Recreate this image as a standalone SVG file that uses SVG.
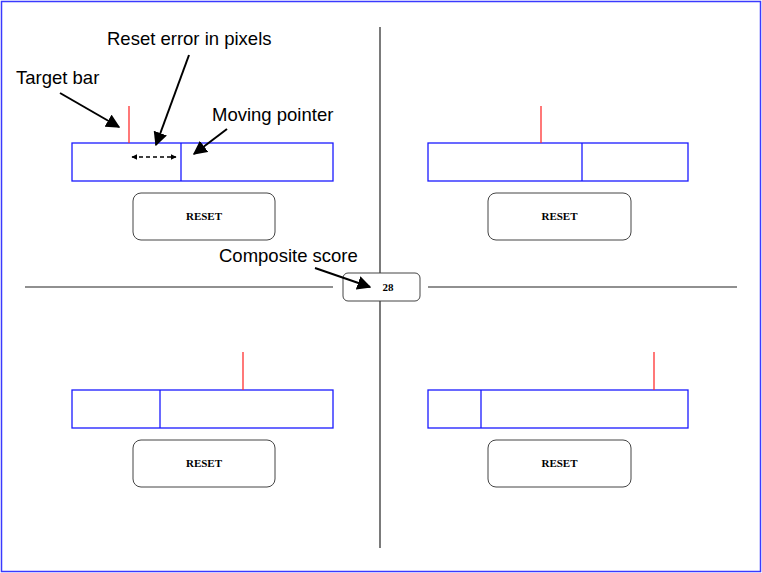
<svg xmlns="http://www.w3.org/2000/svg" width="762" height="573" viewBox="0 0 762 573">
<defs>
<marker id="ah" viewBox="0 0 10 10" refX="9" refY="5" markerWidth="7" markerHeight="7" orient="auto-start-reverse"><path d="M0,0L10,5L0,10z" fill="#000"/></marker>
<marker id="as" viewBox="0 0 10 10" refX="9" refY="5" markerWidth="4" markerHeight="4" orient="auto-start-reverse"><path d="M0,0L10,5L0,10z" fill="#000"/></marker>
</defs>
<style>
.bar{fill:#fff;stroke:#1a1aff;stroke-width:1.3}
.ptr{stroke:#1a1aff;stroke-width:1.3}
.tgt{stroke:#ff3030;stroke-width:1.3}
.btn{fill:#fff;stroke:#444;stroke-width:1}
.bt{font-family:"Liberation Serif",serif;font-weight:bold;font-size:11px;text-anchor:middle}
.lbl{font-family:"Liberation Sans",Arial,sans-serif;font-size:18.5px}
.ln{stroke:#222;stroke-width:1.2}
.arr{stroke:#000;stroke-width:2;fill:none;marker-end:url(#ah)}
</style>
<rect x="1.5" y="1.5" width="759" height="570" fill="#fff" stroke="#3a3aff" stroke-width="1.5"/>
<g id="dividers">
<line class="ln" x1="380" y1="27" x2="380" y2="548"/>
<line class="ln" x1="25" y1="287" x2="333" y2="287"/>
<line class="ln" x1="428" y1="287" x2="737" y2="287"/>
</g>
<g id="panel-tl"><rect class="bar" x="72" y="143" width="261" height="38"/><line class="ptr" x1="181" y1="143" x2="181" y2="181"/><line class="tgt" x1="129" y1="106" x2="129" y2="143"/><rect class="btn" x="133" y="193" width="142" height="47" rx="8"/><text class="bt" x="204" y="220">RESET</text></g>
<g id="panel-tr"><rect class="bar" x="428" y="143" width="260" height="38"/><line class="ptr" x1="582" y1="143" x2="582" y2="181"/><line class="tgt" x1="541" y1="106" x2="541" y2="143"/><rect class="btn" x="488" y="193" width="143" height="47" rx="8"/><text class="bt" x="559.500" y="220">RESET</text></g>
<g id="panel-bl"><rect class="bar" x="72" y="390" width="261" height="38"/><line class="ptr" x1="160" y1="390" x2="160" y2="428"/><line class="tgt" x1="243" y1="352" x2="243" y2="390"/><rect class="btn" x="133" y="440" width="142" height="47" rx="8"/><text class="bt" x="204" y="467">RESET</text></g>
<g id="panel-br"><rect class="bar" x="428" y="390" width="260" height="38"/><line class="ptr" x1="481" y1="390" x2="481" y2="428"/><line class="tgt" x1="654" y1="352" x2="654" y2="390"/><rect class="btn" x="488" y="440" width="143" height="47" rx="8"/><text class="bt" x="559.500" y="467">RESET</text></g>
<g id="score"><rect class="btn" x="343" y="273" width="77" height="28" rx="5"/><text class="bt" x="388" y="291">28</text></g>
<g id="labels">
<text class="lbl" x="16" y="84">Target bar</text>
<text class="lbl" x="107" y="45">Reset error in pixels</text>
<text class="lbl" x="212" y="121">Moving pointer</text>
<text class="lbl" x="219" y="262">Composite score</text>
</g>
<g id="connectors">
<line class="arr" x1="60" y1="93" x2="119" y2="127"/>
<line class="arr" x1="189" y1="55" x2="156" y2="145"/>
<line class="arr" x1="227" y1="129" x2="194" y2="154"/>
<line class="arr" x1="315" y1="268" x2="370" y2="287"/>
<line x1="132" y1="157" x2="176" y2="157" stroke="#000" stroke-width="1.5" stroke-dasharray="4,3" marker-start="url(#as)" marker-end="url(#as)"/>
</g>
</svg>
